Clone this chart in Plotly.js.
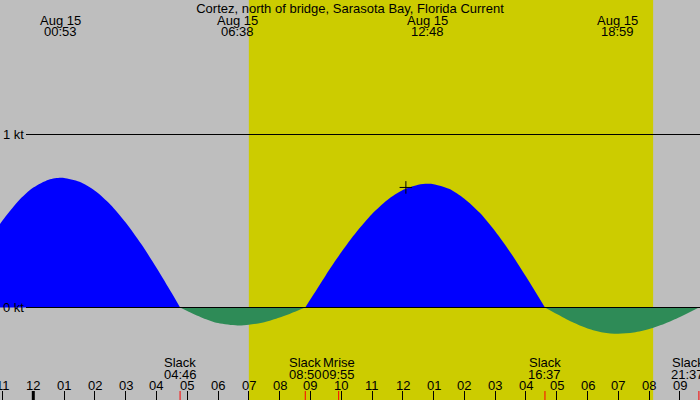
<!DOCTYPE html>
<html>
<head>
<meta charset="utf-8">
<script src="https://cdn.plot.ly/plotly-3.0.1.min.js"></script>
<style>html,body{margin:0;padding:0;background:#bebebe;}#chart{width:700px;height:400px;}</style>
</head>
<body>
<div id="chart"></div>
<script>
// Hours relative to Aug 15 00:00
const tickHours = [-1,0,1,2,3,4,5,6,7,8,9,10,11,12,13,14,15,16,17,18,19,20,21];
const tickLabels = ["11","12","01","02","03","04","05","06","07","08","09","10","11","12","01","02","03","04","05","06","07","08","09"];

// Current speed (kt)
const floodT1 = [-1.1,-1.0,-0.5,0,0.5,0.883,1.0,1.5,2.0,2.5,3.0,3.5,4.0,4.5,4.767];
const floodV1 = [0.478,0.503,0.613,0.693,0.739,0.750,0.749,0.727,0.675,0.596,0.492,0.368,0.230,0.082,0];
const ebbT1 = [4.767,5.0,5.5,6.0,6.633,7.0,7.5,8.0,8.5,8.833];
const ebbV1 = [0,-0.020,-0.060,-0.090,-0.104,-0.100,-0.085,-0.058,-0.024,0];
const floodT2 = [8.833,9.0,9.5,10,10.5,11,11.5,12,12.5,12.8,13,13.5,14,14.5,15,15.5,16,16.617];
const floodV2 = [0,0.047,0.187,0.319,0.438,0.541,0.622,0.679,0.710,0.715,0.713,0.686,0.629,0.547,0.441,0.317,0.179,0];
const ebbT2 = [16.617,17,17.5,18,18.5,18.983,19.5,20,20.5,21,21.617];
const ebbV2 = [0,-0.038,-0.084,-0.121,-0.144,-0.152,-0.145,-0.125,-0.094,-0.055,0];

// Max/min current events (top labels)
const peakT = [0.883,6.633,12.8,18.983];
const peakDate = ["Aug 15","Aug 15","Aug 15","Aug 15"];
const peakTime = ["00:53","06:38","12:48","18:59"];

// Bottom events
const eventT = [4.767,8.833,9.917,16.617,21.617];
const eventName = ["Slack","Slack","Mrise","Slack","Slack"];
const eventTime = ["04:46","08:50","09:55","16:37","21:37"];

// Daylight
const sunrise = 7.0;
const sunset = 20.13;

// Kt reference levels
const ktLevels = [0,1];
const ktLabels = ["0 kt","1 kt"];

// Current-time marker
const nowT = [12.10];
const nowV = [0.694];

const FONT = "Liberation Sans, Arial, sans-serif";
const BLUE = "#0000ff", GREEN = "#2e8b57";
const XR = [-1.0815, 21.652];
const W = 700, H = 400;

function area(t, v, color) {
  return {x:t, y:v, type:'scatter', mode:'lines', fill:'tozeroy', fillcolor:color,
          line:{color:color, width:0, shape:'spline', smoothing:0.8}, hoverinfo:'skip', showlegend:false};
}

const traces = [
  area(floodT1, floodV1, BLUE),
  area(ebbT1, ebbV1, GREEN),
  area(floodT2, floodV2, BLUE),
  area(ebbT2, ebbV2, GREEN),
  {x:nowT, y:nowV, type:'scatter', mode:'markers',
   marker:{symbol:'cross-thin', size:9, color:'#000', line:{color:'#000', width:1}},
   hoverinfo:'skip', showlegend:false}
];

const shapes = [];
shapes.push({type:'rect', xref:'x', yref:'paper', x0:sunrise, x1:sunset, y0:0, y1:1,
             fillcolor:'#cccc00', line:{width:0}, layer:'below'});
ktLevels.forEach(k => shapes.push({type:'line', xref:'paper', yref:'y', x0:26/W, x1:1, y0:k, y1:k,
             line:{color:'#000', width:1}, layer:'above'}));
eventT.forEach(t => shapes.push({type:'line', xref:'x', yref:'paper', x0:t, x1:t, y0:0, y1:9/H,
             line:{color:'#ff0000', width:1}, layer:'above'}));
shapes.push({type:'line', xref:'x', yref:'paper', x0:0, x1:0, y0:0, y1:9/H,
             line:{color:'#000', width:3}, layer:'above'});

const annotations = [];
const TXT = {family:FONT, size:13, color:'#000'};
function pxOf(t){ return (t - XR[0]) / (XR[1] - XR[0]) * W; }
function edgeShift(t){ return (W - pxOf(t)) < 16 ? -11 : 0; }
peakT.forEach((t,i) => {
  annotations.push({x:t, xref:'x', y:1-20/H, yref:'paper', text:peakDate[i], showarrow:false, font:TXT, xanchor:'center', yanchor:'middle'});
  annotations.push({x:t, xref:'x', y:1-32/H, yref:'paper', text:peakTime[i], showarrow:false, font:TXT, xanchor:'center', yanchor:'middle'});
});
eventT.forEach((t,i) => {
  const s = edgeShift(t);
  annotations.push({x:t, xref:'x', y:1-362/H, yref:'paper', text:eventName[i], showarrow:false, font:TXT, xanchor:'center', yanchor:'middle', xshift:s});
  annotations.push({x:t, xref:'x', y:1-374/H, yref:'paper', text:eventTime[i], showarrow:false, font:TXT, xanchor:'center', yanchor:'middle', xshift:s});
});
tickHours.forEach((h,i) => {
  annotations.push({x:h, xref:'x', y:1-385.5/H, yref:'paper', text:tickLabels[i], showarrow:false, font:TXT, xanchor:'center', yanchor:'middle'});
});
ktLevels.forEach((k,i) => {
  annotations.push({x:0, xref:'paper', y:k, yref:'y', text:ktLabels[i], showarrow:false, font:TXT, xanchor:'left', yanchor:'middle', xshift:1});
});

const layout = {
  width:W, height:H,
  margin:{l:0,r:0,t:0,b:0,pad:0},
  paper_bgcolor:'#bebebe', plot_bgcolor:'#bebebe',
  title:{text:'Cortez, north of bridge, Sarasota Bay, Florida Current', x:0.5, xanchor:'center',
         y:1-8/H, yref:'container', yanchor:'middle', font:TXT},
  xaxis:{range:XR, tickmode:'array', tickvals:tickHours, showticklabels:false,
         ticks:'inside', ticklen:9, tickwidth:1, tickcolor:'#000',
         showgrid:false, zeroline:false, showline:false, fixedrange:true},
  yaxis:{range:[-0.5347,1.7775], visible:false, showgrid:false, zeroline:false, fixedrange:true},
  shapes:shapes, annotations:annotations, showlegend:false, hovermode:false
};

Plotly.newPlot('chart', traces, layout, {staticPlot:true, displayModeBar:false});
</script>
</body>
</html>
